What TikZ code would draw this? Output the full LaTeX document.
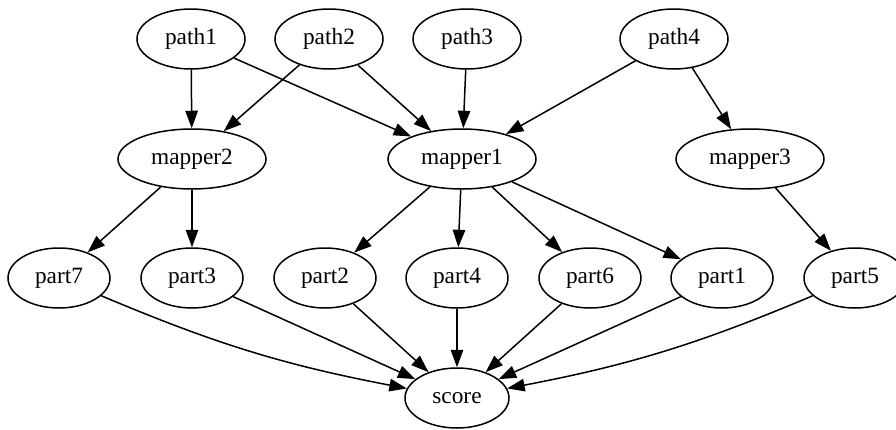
\documentclass[tikz,border=0pt]{standalone}
\usepackage{fontspec}
\setmainfont{Liberation Serif}
\usetikzlibrary{shapes.geometric,arrows.meta}
\begin{document}
\begin{tikzpicture}[x=0.6pt,y=-0.6pt,
  gnode/.style={ellipse,draw,line width=0.9pt,inner sep=0pt,minimum height=36pt,
    font=\fontsize{14}{16}\selectfont},
  pathn/.style={gnode,minimum width=64.8pt},
  mapn/.style={gnode,minimum width=88.8pt},
  partn/.style={gnode,minimum width=61.2pt},
  scoren/.style={gnode,minimum width=62.4pt},
  edge/.style={line width=0.9pt,-{Triangle[length=10.5pt,width=7.5pt]}}]
\useasboundingbox (0,0) rectangle (896,430);
\clip (0,0) rectangle (896,430);
\node[pathn] (path1) at (191,39) {path1};
\node[pathn] (path2) at (329,39) {path2};
\node[pathn] (path3) at (467,39) {path3};
\node[pathn] (path4) at (674,39) {path4};
\node[mapn] (mapper2) at (192,159) {mapper2};
\node[mapn] (mapper1) at (462,159) {mapper1};
\node[mapn] (mapper3) at (750,159) {mapper3};
\node[partn] (part7) at (59,278) {part7};
\node[partn] (part3) at (192,278) {part3};
\node[partn] (part2) at (325,278) {part2};
\node[partn] (part4) at (457,278) {part4};
\node[partn] (part6) at (590,278) {part6};
\node[partn] (part1) at (722,278) {part1};
\node[partn] (part5) at (855,278) {part5};
\node[scoren] (score) at (457,398) {score};
\draw[edge] (path1) -- (mapper2);
\draw[edge] (path1) -- (mapper1);
\draw[edge] (path2) -- (mapper2);
\draw[edge] (path2) -- (mapper1);
\draw[edge] (path3) -- (mapper1);
\draw[edge] (path4) -- (mapper1);
\draw[edge] (path4) -- (mapper3);
\draw[edge] (mapper2) -- (part7);
\draw[edge] (mapper2) -- (part3);
\draw[edge] (mapper1) -- (part2);
\draw[edge] (mapper1) -- (part4);
\draw[edge] (mapper1) -- (part6);
\draw[edge] (mapper1) -- (part1);
\draw[edge] (mapper3) -- (part5);
\draw[edge] (part7) to[bend right=6] (score);
\draw[edge] (part3) -- (score);
\draw[edge] (part2) -- (score);
\draw[edge] (part4) -- (score);
\draw[edge] (part6) -- (score);
\draw[edge] (part1) -- (score);
\draw[edge] (part5) to[bend left=6] (score);
\end{tikzpicture}
\end{document}
